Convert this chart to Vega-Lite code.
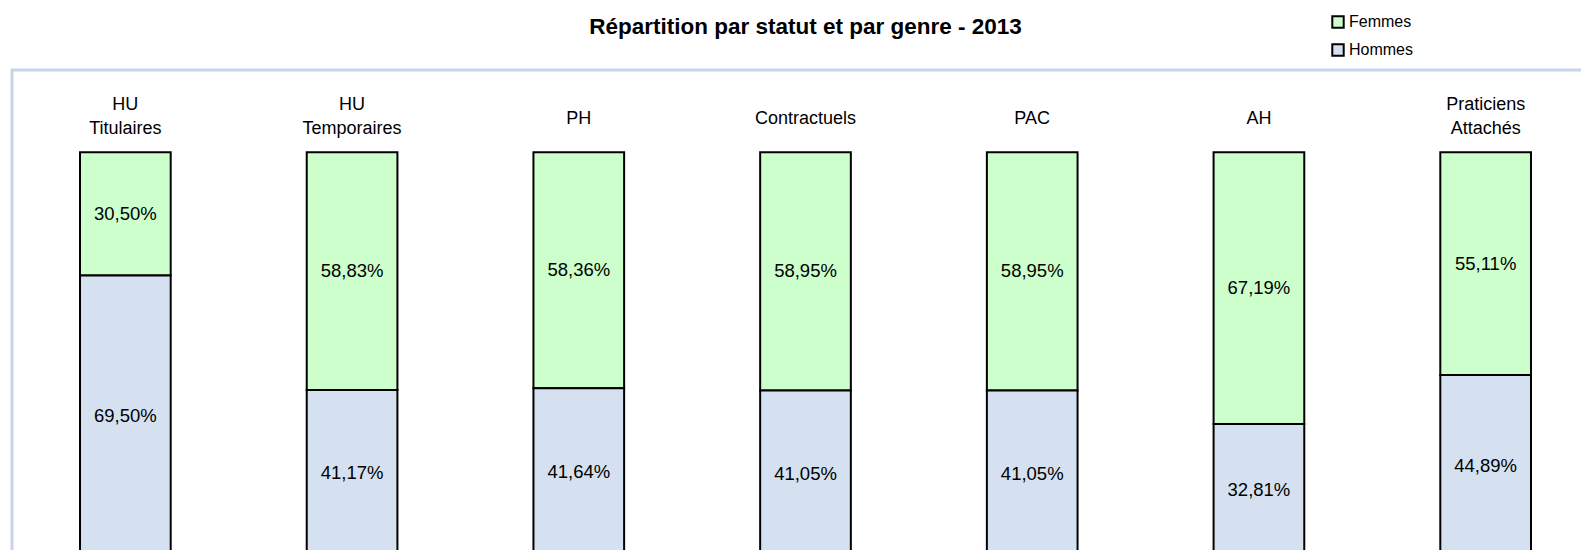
{
  "$schema": "https://vega.github.io/schema/vega-lite/v6.json",
  "width": 1587,
  "height": 490,
  "autosize": {"type": "none"},
  "padding": {"left": 12, "top": 70, "right": 0, "bottom": 0},
  "title": {
    "text": "Répartition par statut et par genre - 2013",
    "font": "Liberation Sans",
    "fontSize": 22.5,
    "fontWeight": "bold",
    "color": "#000000",
    "anchor": "middle",
    "offset": 34,
    "dy": 58
  },
  "data": {
    "values": [
      {"statut": "HU Titulaires", "genre": "Femmes", "pct": 30.50},
      {"statut": "HU Titulaires", "genre": "Hommes", "pct": 69.50},
      {"statut": "HU Temporaires", "genre": "Femmes", "pct": 58.83},
      {"statut": "HU Temporaires", "genre": "Hommes", "pct": 41.17},
      {"statut": "PH", "genre": "Femmes", "pct": 58.36},
      {"statut": "PH", "genre": "Hommes", "pct": 41.64},
      {"statut": "Contractuels", "genre": "Femmes", "pct": 58.95},
      {"statut": "Contractuels", "genre": "Hommes", "pct": 41.05},
      {"statut": "PAC", "genre": "Femmes", "pct": 58.95},
      {"statut": "PAC", "genre": "Hommes", "pct": 41.05},
      {"statut": "AH", "genre": "Femmes", "pct": 67.19},
      {"statut": "AH", "genre": "Hommes", "pct": 32.81},
      {"statut": "Praticiens Attachés", "genre": "Femmes", "pct": 55.11},
      {"statut": "Praticiens Attachés", "genre": "Hommes", "pct": 44.89}
    ]
  },
  "transform": [
    {"stack": "pct", "groupby": ["statut"], "sort": [{"field": "genre", "order": "descending"}], "offset": "normalize", "as": ["y0", "y1"]},
    {"calculate": "(datum.y0 + datum.y1) / 2", "as": "mid"},
    {"calculate": "replace(format(datum.pct, '.2f'), '.', ',') + '%'", "as": "label"}
  ],
  "encoding": {
    "x": {
      "field": "statut",
      "type": "nominal",
      "sort": null,
      "scale": {"paddingInner": 0.6, "paddingOuter": 0.3},
      "axis": {
        "orient": "top",
        "title": null,
        "offset": -39,
        "domain": false,
        "ticks": false,
        "tickSize": 0,
        "labelPadding": 0,
        "labelAngle": 0,
        "labelBaseline": {"condition": {"test": "indexof(datum.value, ' ') >= 0", "value": "alphabetic"}, "value": "top"},
        "labelFont": "Liberation Sans",
        "labelFontSize": 18,
        "labelColor": "#000000",
        "labelLineHeight": 24,
        "labelExpr": "split(datum.value, ' ')"
      }
    }
  },
  "layer": [
    {
      "mark": {"type": "bar", "stroke": "#000000", "strokeWidth": 2},
      "encoding": {
        "y": {
          "field": "y0",
          "type": "quantitative",
          "scale": {"domain": [-0.00841, 1.20326], "nice": false, "zero": false},
          "axis": null
        },
        "y2": {"field": "y1"},
        "color": {
          "field": "genre",
          "type": "nominal",
          "scale": {"domain": ["Femmes", "Hommes"], "range": ["#CCFFCC", "#D5E1F1"]},
          "legend": {
            "orient": "none",
            "legendX": 1318,
            "legendY": -56,
            "title": null,
            "padding": 0,
            "symbolType": "square",
            "symbolSize": 130,
            "symbolStrokeColor": "#000000",
            "symbolStrokeWidth": 2,
            "symbolOpacity": 1,
            "labelFont": "Liberation Sans",
            "labelFontSize": 16,
            "labelColor": "#000000",
            "labelOffset": 3,
            "rowPadding": 8
          }
        }
      }
    },
    {
      "mark": {"type": "text", "font": "Liberation Sans", "fontSize": 18.5, "color": "#000000", "baseline": "middle"},
      "encoding": {
        "y": {"field": "mid", "type": "quantitative"},
        "text": {"field": "label"}
      }
    }
  ],
  "config": {
    "view": {"stroke": "#C6D5EA", "strokeWidth": 3},
    "background": "#FFFFFF"
  }
}
